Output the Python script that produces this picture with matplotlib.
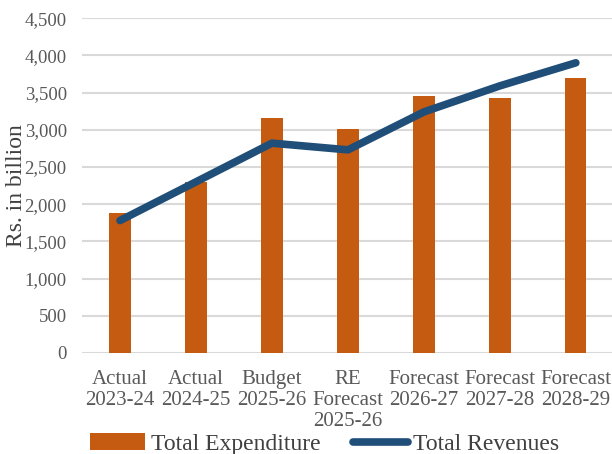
import matplotlib.pyplot as plt
import numpy as np

categories = ["Actual\n2023-24", "Actual\n2024-25", "Budget\n2025-26", "RE\nForecast\n2025-26",
              "Forecast\n2026-27", "Forecast\n2027-28", "Forecast\n2028-29"]
total_expenditure = [1880, 2300, 3160, 3010, 3450, 3430, 3690]
total_revenues = [1780, 2300, 2820, 2730, 3240, 3590, 3900]

plt.rcParams['font.family'] = ['Liberation Serif', 'DejaVu Serif']

fig = plt.figure(figsize=(6.12, 4.54), dpi=100)
ax = fig.add_axes([0.134, 0.2225, 0.869, 0.7375])

x = np.arange(len(categories))
bars = ax.bar(x, total_expenditure, width=0.28, color="#C55A11", label="Total Expenditure", zorder=2)
line, = ax.plot(x, total_revenues, color="#1F4E79", linewidth=5.5, solid_capstyle="round",
                solid_joinstyle="round", label="Total Revenues", zorder=3)

ax.set_xlim(-0.5, len(categories) - 0.5)
ax.set_ylim(0, 4500)
ax.set_yticks(np.arange(0, 4501, 500))
ax.set_yticklabels([f"{v:,}" for v in range(0, 4501, 500)])
ax.set_xticks(x)
ax.set_xticklabels(categories, fontsize=15, color="#595959", linespacing=1.15)
ax.tick_params(axis="y", labelsize=13.5, colors="#595959", length=0, pad=11)
ax.tick_params(axis="x", length=0, pad=12)
ax.grid(axis="y", color="#D9D9D9", linewidth=1.5, zorder=0)
for s in ax.spines.values():
    s.set_visible(False)

ax.set_ylabel("Rs. in billion", fontsize=17, color="#404040")
ax.yaxis.set_label_coords(-0.104, 0.5)

fig.legend([bars, line], ["Total Expenditure", "Total Revenues"], loc="center",
           bbox_to_anchor=(0.531, 0.022), ncol=2, frameon=False,
           fontsize=17, labelcolor="#404040", handlelength=2.3, handleheight=0.75,
           handletextpad=0.25, columnspacing=1.4)

fig.savefig("out.png", dpi=100)
